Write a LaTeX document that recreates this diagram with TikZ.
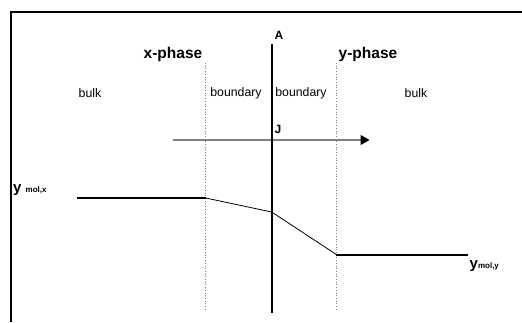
\documentclass[tikz,border=0pt]{standalone}
\usepackage{fontspec}
\setmainfont{Liberation Sans}
\usetikzlibrary{arrows.meta}
\begin{document}
\begin{tikzpicture}[x=1pt,y=-1pt,
  lbl/.style={inner sep=0pt,font=\fontsize{12.3}{14}\selectfont},
  phase/.style={inner sep=0pt,font=\fontsize{15.5}{18}\selectfont\bfseries},
  bl/.style={inner sep=0pt,font=\fontsize{12}{14}\selectfont\bfseries},
  dotline/.style={draw=gray,line width=0.7pt,dotted},
  thickline/.style={line width=2pt},
  thinline/.style={line width=0.8pt}]
\useasboundingbox (0,0) rectangle (522,322);
% frame
\draw[line width=2pt] (11,322) -- (11,11.7) -- (522,11.7);
% coordinates
\coordinate (itop) at (271.7,44);
\coordinate (ibot) at (271.7,313);
\coordinate (d1top) at (205.7,63);
\coordinate (d1bot) at (205.7,311);
\coordinate (d2top) at (336.3,63);
\coordinate (d2bot) at (336.3,311);
\coordinate (p0) at (76.7,198);
\coordinate (p1) at (205.7,198);
\coordinate (p2) at (271.7,212);
\coordinate (p3) at (336.3,254.5);
\coordinate (p4) at (467.7,254.5);
\coordinate (a0) at (173,140);
\coordinate (a1) at (369.5,140);
% lines
\draw[dotline] (d1top) -- (d1bot);
\draw[dotline] (d2top) -- (d2bot);
\draw[gray,line width=1.2pt,-{Triangle[length=9pt,width=10pt,color=black,fill=black]}] (a0) -- (a1);
\draw[line width=2.4pt] (itop) -- (ibot);
\draw[thickline] (p0) -- (p1);
\draw[thinline] (p1) -- (p2) -- (p3);
\draw[thickline] (p3) -- (p4);
% labels
\node[bl,anchor=south west] (A) at (274.5,39.5) {A};
\node[phase] (xph) at (173,54) {x-phase};
\node[phase] (yph) at (368,54) {y-phase};
\node[lbl] (bulk1) at (90,93.5) {bulk};
\node[lbl] (bd1) at (236,93.5) {boundary};
\node[lbl] (bd2) at (301,93.5) {boundary};
\node[lbl] (bulk2) at (416,93.5) {bulk};
\node[bl,anchor=south west] (J) at (274.5,134) {J};
\node[inner sep=0pt,anchor=base west] (ymx) at (13,192.5) {\fontsize{15}{17}\selectfont\bfseries y \fontsize{8}{10}\selectfont mol,x};
\node[inner sep=0pt,anchor=base west] (ymy) at (469.5,268.5) {\fontsize{15}{17}\selectfont\bfseries y\fontsize{8}{10}\selectfont mol,y};
\end{tikzpicture}
\end{document}
